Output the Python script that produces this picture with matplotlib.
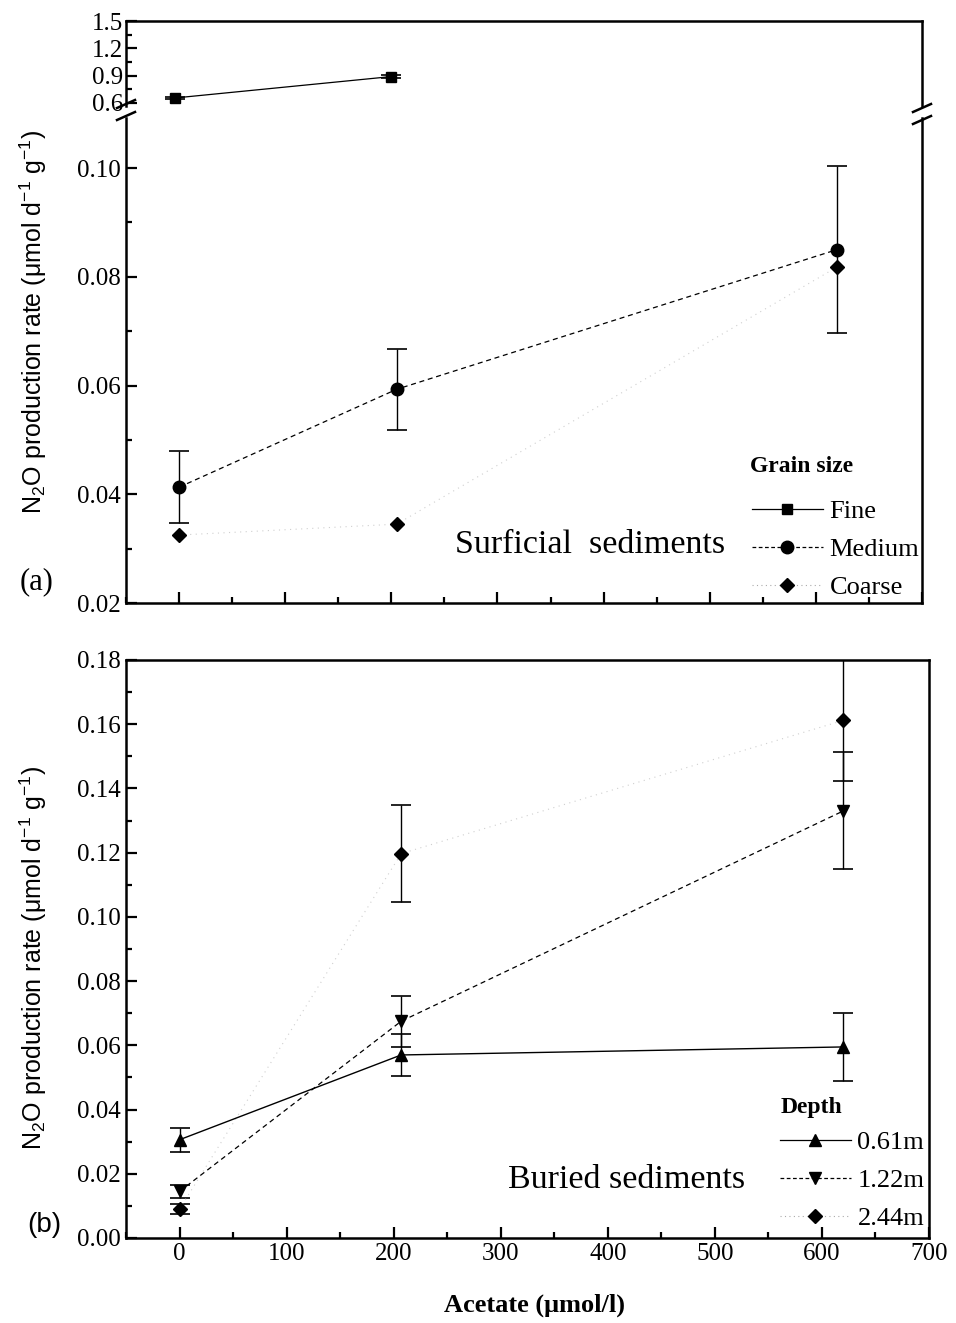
import matplotlib
matplotlib.use("Agg")
import matplotlib.pyplot as plt
from matplotlib.lines import Line2D
from matplotlib.ticker import MultipleLocator

plt.rcParams.update({"font.family": "Liberation Serif", "font.size": 18,
                     "mathtext.fontset": "custom", "mathtext.rm": "Liberation Sans",
                     "mathtext.it": "Liberation Sans:italic", "mathtext.bf": "Liberation Sans:bold"})

# ---- data ----
# (a) surficial sediments, by grain size
fine_x = [-4, 200]
fine_y = [0.655, 0.89]
fine_err = [0.015, 0.02]
med_x = [0, 205, 620]
med_y = [0.0413, 0.0593, 0.0850]
med_err = [0.0066, 0.0074, 0.0153]
coarse_x = [0, 205, 620]
coarse_y = [0.0325, 0.0345, 0.0818]

# (b) buried sediments, by depth
d061_x = [0, 207, 620]
d061_y = [0.0306, 0.0570, 0.0595]
d061_err = [0.0037, 0.0066, 0.0105]
d122_x = [0, 207, 620]
d122_y = [0.0145, 0.0675, 0.1330]
d122_err = [0.0020, 0.0080, 0.0182]
d244_x = [0, 207, 620]
d244_y = [0.0090, 0.1197, 0.1612]
d244_err = [0.0015, 0.0150, 0.0190]

W, H = 956, 1323
INK = "black"
FAINT = "#cfcfcf"


def rect(l, t, r, b):
    return [l / W, 1 - b / H, (r - l) / W, (b - t) / H]


fig = plt.figure(figsize=(W / 100, H / 100), dpi=100)
ax_t = fig.add_axes(rect(126, 21, 922, 106))
ax_a = fig.add_axes(rect(126, 118, 922, 603))
ax_b = fig.add_axes(rect(126, 660, 929, 1238))

for ax in (ax_t, ax_a, ax_b):
    ax.set_xlim(-50, 700)
    for s in ax.spines.values():
        s.set_linewidth(1.8)
    ax.tick_params(which="both", direction="in", top=False, right=False, width=1.6)
    ax.tick_params(which="major", length=8, labelsize=18)
    ax.tick_params(which="minor", length=4)
    ax.xaxis.set_major_locator(MultipleLocator(100))
    ax.xaxis.set_minor_locator(MultipleLocator(50))

# upper part of the broken axis
ax_t.set_ylim(0.567, 1.5)
ax_t.yaxis.set_minor_locator(MultipleLocator(0.15))
ax_t.spines["bottom"].set_visible(False)
ax_t.tick_params(axis="x", which="both", bottom=False, labelbottom=False)
ax_t.tick_params(axis="y", pad=2)
ax_t.set_yticks([0.6, 0.9, 1.2, 1.5])
ax_t.set_yticklabels(["0.6", "0.9", "1.2", "1.5"])

# lower part of (a)
ax_a.set_ylim(0.02, 0.1092)
ax_a.yaxis.set_major_locator(MultipleLocator(0.02))
ax_a.yaxis.set_minor_locator(MultipleLocator(0.01))
ax_a.yaxis.set_major_formatter(lambda v, p: f"{v:.2f}")
ax_a.spines["top"].set_visible(False)
ax_a.tick_params(axis="x", labelbottom=False)

ax_b.set_ylim(0, 0.18)
ax_b.yaxis.set_major_locator(MultipleLocator(0.02))
ax_b.yaxis.set_minor_locator(MultipleLocator(0.01))
ax_b.yaxis.set_major_formatter(lambda v, p: f"{v:.2f}")

ekw = dict(elinewidth=1.0, capsize=7, capthick=1.2, ecolor=INK)

# fine (upper part)
ax_t.errorbar(fine_x, fine_y, yerr=fine_err, color=INK, lw=0.9, marker="s", ms=7, **ekw)

# medium and coarse (lower part)
ax_a.plot(coarse_x, coarse_y, color=FAINT, lw=0.8, ls=(0, (1, 4)), marker="D", ms=7,
          mfc=INK, mec=INK, zorder=2)
ax_a.errorbar(med_x, med_y, yerr=med_err, color=INK, lw=0.9, ls=(0, (4, 3)), marker="o",
              ms=9, zorder=3, **ekw)

# (b)
ax_b.errorbar(d244_x, d244_y, yerr=d244_err, color=FAINT, lw=0.8, ls=(0, (1, 4)), marker="D",
              ms=7, mfc=INK, mec=INK, **ekw)
ax_b.errorbar(d061_x, d061_y, yerr=d061_err, color=INK, lw=1.0, marker="^", ms=9, **ekw)
ax_b.errorbar(d122_x, d122_y, yerr=d122_err, color=INK, lw=0.9, ls=(0, (4, 3)), marker="v",
              ms=9, **ekw)

# break marks on the y axes
for x0, y0 in [(126, 104), (126, 116), (922, 108), (922, 120)]:
    fig.add_artist(Line2D([(x0 - 9) / W, (x0 + 9) / W], [1 - (y0 + 4) / H, 1 - (y0 - 4) / H],
                          color=INK, lw=1.8))

# legends (titles drawn separately)
leg_kw = dict(frameon=False, borderpad=0, borderaxespad=0, handlelength=2.7,
              handletextpad=0.25, labelspacing=0.55, fontsize=19)
h_a = [Line2D([], [], color=INK, lw=0.9, marker="s", ms=7),
       Line2D([], [], color=INK, lw=0.9, ls=(0, (3, 2)), marker="o", ms=9),
       Line2D([], [], color="#aaaaaa", lw=0.8, ls=(0, (1, 3)), marker="D", ms=7, mfc=INK, mec=INK)]
ax_a.legend(h_a, ["Fine", "Medium", "Coarse"], loc="center left",
            bbox_to_anchor=(0.786, 0.111), **leg_kw)
h_b = [Line2D([], [], color=INK, lw=0.9, marker="^", ms=9),
       Line2D([], [], color=INK, lw=0.9, ls=(0, (3, 2)), marker="v", ms=9),
       Line2D([], [], color="#aaaaaa", lw=0.8, ls=(0, (1, 3)), marker="D", ms=7, mfc=INK, mec=INK)]
ax_b.legend(h_b, ["0.61m", "1.22m", "2.44m"], loc="center left",
            bbox_to_anchor=(0.814, 0.100), **leg_kw)
fig.text(750 / W, 1 - 467 / H, "Grain size", ha="left", va="center", fontsize=17,
         fontweight="bold")
fig.text(781 / W, 1 - 1107 / H, "Depth", ha="left", va="center", fontsize=17,
         fontweight="bold")

# annotations and labels
fig.text(590 / W, 1 - 545 / H, "Surficial  sediments", ha="center", va="center", fontsize=24.5)
fig.text(627 / W, 1 - 1180 / H, "Buried sediments", ha="center", va="center", fontsize=24.5)
fig.text(37 / W, 1 - 582 / H, "(a)", ha="center", va="center", fontsize=22)
fig.text(44 / W, 1 - 1225 / H, "(b)", ha="center", va="center", fontsize=20,
         family="Liberation Sans")
ylab = r"N$_2$O production rate (μmol d$^{-1}$ g$^{-1}$)"
fig.text(33 / W, 1 - 322 / H, ylab, rotation=90, ha="center", va="center", fontsize=18,
         family="Liberation Sans")
fig.text(33 / W, 1 - 958 / H, ylab, rotation=90, ha="center", va="center", fontsize=18,
         family="Liberation Sans")
fig.text(535 / W, 1 - 1305 / H, "Acetate (μmol/l)", ha="center", va="center", fontsize=19,
         fontweight="bold")

fig.savefig("out.png", dpi=100, facecolor="white")
